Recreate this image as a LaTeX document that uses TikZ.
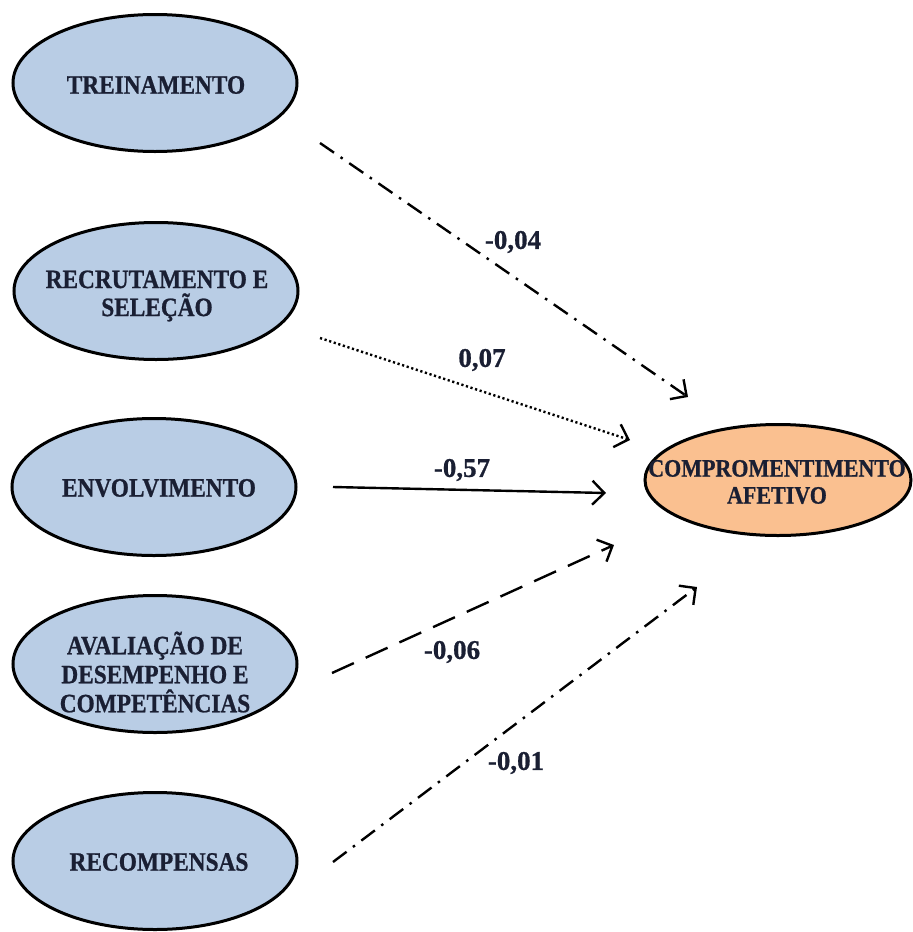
\documentclass[tikz,border=0pt]{standalone}
\usepackage{fontspec}
\setmainfont[FakeStretch=0.88, BoldFeatures={FakeBold=0.8}]{Liberation Serif}
\newfontfamily\valuefont[BoldFeatures={FakeBold=0.8}]{Liberation Serif}
\usetikzlibrary{arrows.meta,shapes.geometric}

\definecolor{factorblue}{HTML}{B9CDE5}
\definecolor{outcomeorange}{HTML}{FAC090}
\definecolor{inktext}{HTML}{1A1F33}

\tikzset{
  factor/.style={ellipse, draw=black, line width=3pt, fill=factorblue,
    minimum width=284pt, minimum height=137pt, inner sep=0pt},
  outcome/.style={ellipse, draw=black, line width=3pt, fill=outcomeorange,
    minimum width=266pt, minimum height=111pt, inner sep=0pt},
  factortext/.style={align=center, text=inktext, inner sep=0pt,
    font=\fontsize{26.5}{28}\selectfont\bfseries},
  outcometext/.style={align=center, text=inktext, inner sep=0pt,
    font=\fontsize{25}{27}\selectfont\bfseries},
  weight/.style={text=inktext, inner sep=0pt,
    font=\valuefont\fontsize{27}{29}\selectfont\bfseries},
  path/.style={line width=2.4pt, -{Straight Barb[length=12pt,width=24pt,line width=2.4pt]}},
  dashdotline/.style={dash pattern=on 17pt off 8pt on 2.5pt off 8pt},
  dotline/.style={dash pattern=on 2.2pt off 2.6pt},
  dashline/.style={dash pattern=on 24pt off 13pt},
}

\begin{document}
\begin{tikzpicture}[x=1pt,y=-1pt]
  \useasboundingbox (0,0) rectangle (913,932);

  % latent constructs
  \node[factor] (trein) at (155,83) {};
  \node[factor] (recrut) at (156,291) {};
  \node[factor] (envol) at (154,487) {};
  \node[factor] (aval) at (155,664) {};
  \node[factor] (recomp) at (155,861) {};
  \node[outcome] (compr) at (778,480) {};

  % construct names
  \node[factortext] (treintext) at (156,85) {TREINAMENTO};
  \node[factortext] (recruttext) at (157,296) {RECRUTAMENTO E\\SELEÇÃO};
  \node[factortext] (envoltext) at (159,488) {ENVOLVIMENTO};
  \node[factortext, font=\fontsize{26.5}{29}\selectfont\bfseries]
        (avaltext) at (155,672) {AVALIAÇÃO DE\\DESEMPENHO E\\COMPETÊNCIAS};
  \node[factortext] (recomptext) at (159,862) {RECOMPENSAS};
  \node[outcometext] (comprtext) at (777,482) {COMPROMENTIMENTO\\AFETIVO};

  % path end points
  \coordinate (s1) at (320,143);  \coordinate (e1) at (688,397);
  \coordinate (s2) at (320,338);  \coordinate (e2) at (630,440);
  \coordinate (s3) at (333,487);  \coordinate (e3) at (606,493);
  \coordinate (s4) at (332,673);  \coordinate (e4) at (614,545);
  \coordinate (s5) at (333,862);  \coordinate (e5) at (697,587);

  % structural paths
  \draw[path, dashdotline] (s1) -- (e1);
  \draw[path, dotline] (s2) -- (e2);
  \draw[path] (s3) -- (e3);
  \draw[path, dashline] (s4) -- (e4);
  \draw[path, dashdotline] (s5) -- (e5);

  % path coefficients
  \node[weight] (w1) at (513,242) {-0,04};
  \node[weight] (w2) at (482,360) {0,07};
  \node[weight] (w3) at (462,470) {-0,57};
  \node[weight] (w4) at (452,652) {-0,06};
  \node[weight] (w5) at (516,763) {-0,01};
\end{tikzpicture}
\end{document}
